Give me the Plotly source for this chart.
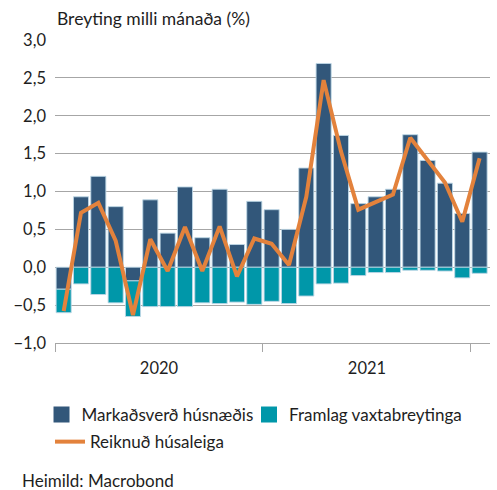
import plotly.graph_objects as go

months = ["2020-01", "2020-02", "2020-03", "2020-04", "2020-05", "2020-06",
          "2020-07", "2020-08", "2020-09", "2020-10", "2020-11", "2020-12",
          "2021-01", "2021-02", "2021-03", "2021-04", "2021-05", "2021-06",
          "2021-07", "2021-08", "2021-09", "2021-10", "2021-11", "2021-12",
          "2022-01"]

markadsverd = [-0.29, 0.93, 1.20, 0.80, -0.18, 0.89, 0.45, 1.06, 0.39, 1.03, 0.30, 0.87,
               0.76, 0.50, 1.31, 2.69, 1.74, 0.84, 0.93, 1.03, 1.75, 1.41, 1.11, 0.71, 1.52]

framlag = [-0.31, -0.22, -0.36, -0.47, -0.47, -0.52, -0.52, -0.52, -0.47, -0.48, -0.46, -0.49,
           -0.45, -0.48, -0.38, -0.22, -0.21, -0.11, -0.07, -0.07, -0.04, -0.04, -0.05, -0.14, -0.08]

reiknud = [-0.58, 0.72, 0.85, 0.35, -0.63, 0.37, -0.05, 0.53, -0.05, 0.54, -0.12, 0.38,
           0.31, 0.03, 0.93, 2.47, 1.53, 0.76, 0.86, 0.96, 1.71, 1.42, 1.12, 0.60, 1.44]

year_labels = ["2020", "2021"]
y_ticks = [-1.0, -0.5, 0.0, 0.5, 1.0, 1.5, 2.0, 2.5, 3.0]

x = list(range(len(months)))
FONT = "Lato"
TXT = "#1E1E1E"
DARK = "#32577A"
TEAL = "#0097A9"
ORANGE = "#E3823C"
GRID = "#A6A6A6"
edge = dict(color="rgba(190,215,230,0.9)", width=1)

years = [m[:4] for m in months]
bounds = [i - 0.5 for i in range(len(months)) if i == 0 or years[i] != years[i - 1]]
centres = []
for yl in year_labels:
    idx = [i for i, yy in enumerate(years) if yy == yl]
    centres.append((idx[0] + idx[-1]) / 2)

fig = go.Figure()
fig.add_trace(go.Bar(x=x, y=markadsverd, name="Markaðsverð húsnæðis", showlegend=False,
                     legendgroup="m", marker=dict(color=DARK, line=edge), width=0.87))
fig.add_trace(go.Bar(x=x, y=framlag, name="Framlag vaxtabreytinga", showlegend=False,
                     legendgroup="f", marker=dict(color=TEAL, line=edge), width=0.87))
fig.add_trace(go.Scatter(x=x, y=reiknud, name="Reiknuð húsaleiga", mode="lines",
                         legend="legend2", line=dict(color=ORANGE, width=4)))
# legend keys for the bar series (square swatches)
fig.add_trace(go.Scatter(x=[None], y=[None], mode="markers", name="Markaðsverð húsnæðis",
                         legendgroup="m", legend="legend",
                         marker=dict(symbol="square", size=16, color=DARK)))
fig.add_trace(go.Scatter(x=[None], y=[None], mode="markers", name="Framlag vaxtabreytinga",
                         legendgroup="f", legend="legend3",
                         marker=dict(symbol="square", size=16, color=TEAL)))

legend_font = dict(family=FONT, size=17, color=TXT)
common = dict(orientation="h", xanchor="left", yanchor="middle", itemwidth=30,
              itemsizing="trace", font=legend_font, bgcolor="rgba(0,0,0,0)")
fig.update_layout(
    width=497, height=490,
    barmode="relative",
    plot_bgcolor="white", paper_bgcolor="white",
    margin=dict(l=55, r=7, t=40, b=147, autoexpand=False),
    separators=",.",
    font=dict(family=FONT, size=16, color=TXT),
    showlegend=True,
    legend=dict(x=-0.031, y=-0.2375, **common),
    legend3=dict(x=0.4460, y=-0.2375, **common),
    legend2=dict(x=-0.0115, y=-0.327, **common),
    xaxis=dict(range=[-0.5, len(months) - 0.4], showgrid=False, zeroline=False,
               showline=True, linecolor=GRID, linewidth=1,
               tickvals=centres, ticktext=year_labels, ticks="",
               ticklabelstandoff=10,
               tickfont=dict(family=FONT, size=16.5, color=TXT),
               minor=dict(tickmode="array", tickvals=bounds, ticks="outside",
                          ticklen=8, tickcolor=GRID, tickwidth=1, showgrid=False)),
    yaxis=dict(range=[-1.0, 3.0], tickvals=y_ticks, tickformat=".1f",
               showgrid=True, gridcolor=GRID, gridwidth=1, zeroline=False,
               showline=False, ticks="", ticklabelstandoff=8,
               tickfont=dict(family=FONT, size=16.5, color=TXT)),
    annotations=[
        dict(text="Breyting milli mánaða (%)", xref="paper", yref="paper",
             x=0, y=1, yshift=9, xanchor="left", yanchor="bottom", showarrow=False,
             font=dict(family=FONT, size=17.5, color=TXT)),
        dict(text="Heimild: Macrobond", xref="paper", yref="paper",
             x=0, xshift=-35, y=0, yshift=-137, xanchor="left", yanchor="middle",
             showarrow=False, font=dict(family=FONT, size=17, color=TXT)),
    ],
)

fig.write_html("out.html", config={"displayModeBar": False},
               post_script="document.body.style.margin='0';")
